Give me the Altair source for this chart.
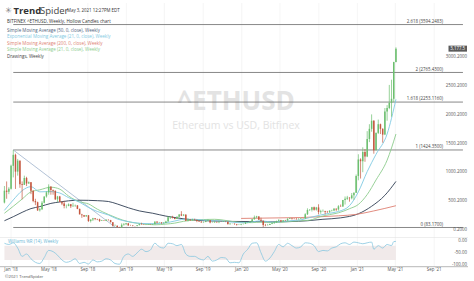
import altair as alt
import pandas as pd

# ---------------- weekly candles, BITFINEX ^ETHUSD ----------------
FIRST_WEEK = "2017-12-11"
FIRST_OPEN = 515
closes = [
    720, 700, 755,
    1150, 1340, 1050, 1240, 830, 820, 940, 845, 865, 720, 540, 520, 380, 400, 510, 620, 690, 790,
    730, 720, 570, 620, 525, 500, 455, 455, 485, 450, 460, 465, 405, 310, 295, 275, 295, 195, 220,
    245, 230, 225, 195, 205, 200, 215, 210, 175, 115, 115, 92, 84, 130, 140, 155,
    118, 116, 108, 107, 124, 143, 137, 131, 136, 141, 136, 141, 185, 168, 170, 156, 163, 187, 260,
    265, 250, 230, 268, 310, 290, 305, 200, 220, 210, 222, 215, 195, 185, 172, 180, 198, 210, 170,
    170, 180, 172, 184, 182, 188, 183, 140, 150, 150, 142, 132, 134, 144,
    146, 166, 168, 188, 225, 260, 275, 218, 200, 125, 122, 125, 143, 158, 171, 197, 210, 186, 207,
    204, 231, 245, 233, 228, 225, 229, 240, 238, 312, 385, 390, 433, 392, 430, 352, 365, 370, 355,
    352, 375, 377, 406, 396, 450, 447, 560, 580, 600, 590, 640, 685, 975,
    1260, 1230, 1390, 1310, 1615, 1790, 1930, 1420, 1720, 1870, 1790, 1690, 2090, 2150, 2240, 2310,
    2945, 3177.5,
]
highs = [
    800, 880, 780,
    1170, 1424, 1360, 1270, 1245, 880, 980, 960, 880, 870, 725, 580, 530, 420, 540, 620, 710, 830,
    800, 740, 720, 630, 630, 535, 545, 480, 500, 490, 510, 480, 470, 410, 320, 300, 300, 295, 225,
    250, 245, 235, 235, 215, 210, 225, 225, 215, 178, 135, 118, 95, 155, 160, 160,
    158, 130, 122, 110, 125, 145, 165, 140, 140, 145, 145, 145, 185, 185, 180, 175, 175, 200, 280,
    280, 285, 250, 275, 315, 365, 315, 315, 240, 225, 235, 235, 216, 200, 192, 185, 200, 225, 212,
    185, 200, 185, 200, 192, 195, 190, 185, 160, 152, 151, 145, 135, 146,
    150, 180, 171, 190, 228, 290, 285, 280, 253, 202, 145, 145, 150, 175, 187, 200, 227, 215, 210,
    215, 245, 252, 250, 240, 250, 245, 250, 245, 330, 415, 400, 440, 445, 440, 485, 390, 395, 372,
    370, 380, 390, 420, 415, 470, 480, 560, 620, 630, 605, 680, 690, 1000,
    1350, 1280, 1470, 1440, 1750, 1870, 2040, 1940, 1730, 1950, 1880, 1800, 2150, 2200, 2550, 2640,
    2950, 3200,
]
lows = [
    500, 580, 660,
    740, 950, 750, 980, 770, 570, 820, 800, 840, 660, 520, 470, 370, 360, 385, 500, 600, 650,
    650, 650, 560, 525, 520, 470, 415, 415, 450, 420, 440, 440, 400, 310, 250, 265, 270, 180, 170,
    195, 210, 210, 180, 195, 195, 195, 205, 170, 100, 105, 85, 83, 84, 115, 130,
    115, 115, 105, 100, 102, 118, 135, 128, 125, 130, 135, 130, 140, 155, 160, 150, 150, 160, 185,
    230, 240, 225, 230, 260, 280, 280, 195, 190, 200, 205, 205, 175, 180, 165, 170, 175, 195, 155,
    165, 168, 165, 158, 178, 180, 175, 140, 135, 142, 130, 117, 125, 125,
    135, 143, 155, 166, 185, 220, 245, 215, 195, 90, 105, 120, 125, 140, 148, 165, 195, 178, 180,
    196, 200, 230, 220, 225, 220, 222, 228, 230, 235, 300, 370, 360, 375, 375, 310, 320, 360, 310,
    335, 335, 360, 365, 370, 375, 440, 440, 480, 560, 530, 570, 560, 680,
    900, 930, 1040, 1220, 1300, 1560, 1740, 1360, 1420, 1700, 1700, 1550, 1680, 1930, 2130, 2000,
    2250, 2940,
]

# ---------------- moving averages ----------------
sma50_dates = ["2017-12-11", "2018-01-08", "2018-02-05", "2018-03-05", "2018-04-02", "2018-05-07",
               "2018-06-04", "2018-07-02", "2018-08-06", "2018-09-03", "2018-10-01", "2018-11-05",
               "2018-12-03", "2019-01-07", "2019-02-11", "2019-03-25", "2019-05-06", "2019-06-10",
               "2019-08-05", "2019-10-07", "2019-12-02", "2020-02-03", "2020-04-06", "2020-06-01",
               "2020-07-27", "2020-09-14", "2020-11-09", "2021-01-04", "2021-02-15", "2021-03-29",
               "2021-05-03"]
sma50_values = [200, 270, 345, 410, 445, 500, 525, 545, 555, 553, 547, 533, 490, 425, 370, 330,
                280, 250, 210, 195, 188, 185, 180, 185, 200, 225, 250, 320, 450, 640, 880]

sma200_dates = ["2019-12-30", "2020-03-02", "2020-05-04", "2020-07-06", "2020-09-07",
                "2020-11-02", "2020-12-28", "2021-02-22", "2021-05-03"]
sma200_values = [240, 245, 250, 255, 270, 285, 310, 370, 460]

ma21_dates = ["2017-12-11", "2018-01-08", "2018-02-05", "2018-03-05", "2018-04-02", "2018-05-07",
              "2018-06-04", "2018-07-02", "2018-08-06", "2018-09-03", "2018-10-01", "2018-11-05",
              "2018-12-03", "2019-01-07", "2019-02-04", "2019-03-04", "2019-04-01", "2019-05-06",
              "2019-06-03", "2019-07-01", "2019-08-05", "2019-09-02", "2019-10-07", "2019-11-04",
              "2019-12-02", "2020-01-06", "2020-02-03", "2020-03-02", "2020-04-06", "2020-05-04",
              "2020-06-01", "2020-07-06", "2020-08-03", "2020-09-07", "2020-10-05", "2020-11-02",
              "2020-12-07", "2021-01-04", "2021-02-01", "2021-03-01", "2021-04-05", "2021-05-03"]
sma21_values = [330, 450, 575, 700, 735, 780, 747, 627, 527, 491, 400, 309, 245, 183, 157, 141,
                130, 142, 159, 190, 213, 221, 225, 211, 187, 170, 167, 177, 168, 174, 187, 200,
                210, 273, 306, 337, 408, 482, 653, 906, 1247, 1700]
ema21_values = [380, 560, 720, 790, 700, 705, 680, 600, 520, 430, 360, 300, 230, 185, 160, 150,
                150, 165, 195, 225, 225, 210, 200, 192, 175, 165, 180, 200, 175, 185, 200, 215,
                255, 300, 330, 360, 460, 700, 1050, 1350, 1700, 2300]

# ---------------- drawings ----------------
fib_ratios = ["2.618", "2", "1.618", "1", "0"]
fib_values = [3594.2483, 2765.4300, 2253.1160, 1424.3500, 83.1700]
fib_start, fib_end = "2018-01-08", "2021-12-01"
trend_dates = ["2018-01-08", "2018-11-26"]
trend_values = [1424.35, 90]

# ---------------- Williams %R (14) ----------------
wr_dates = ["2017-12-11", "2017-12-25",
            "2018-01-08", "2018-01-22", "2018-02-05", "2018-02-19", "2018-03-05", "2018-03-19",
            "2018-04-02", "2018-04-16", "2018-04-30", "2018-05-14", "2018-05-28", "2018-06-11",
            "2018-06-25", "2018-07-09", "2018-07-23", "2018-08-06", "2018-08-20", "2018-09-03",
            "2018-09-17", "2018-10-01", "2018-10-15", "2018-10-29", "2018-11-12", "2018-11-26",
            "2018-12-10", "2018-12-24",
            "2019-01-07", "2019-01-21", "2019-02-04", "2019-02-18", "2019-03-04", "2019-03-18",
            "2019-04-01", "2019-04-15", "2019-04-29", "2019-05-13", "2019-05-27", "2019-06-10",
            "2019-06-24", "2019-07-08", "2019-07-22", "2019-08-05", "2019-08-19", "2019-09-02",
            "2019-09-16", "2019-09-30", "2019-10-14", "2019-10-28", "2019-11-11", "2019-11-25",
            "2019-12-09", "2019-12-23",
            "2020-01-06", "2020-01-20", "2020-02-03", "2020-02-17", "2020-03-02", "2020-03-16",
            "2020-03-30", "2020-04-13", "2020-04-27", "2020-05-11", "2020-05-25", "2020-06-08",
            "2020-06-22", "2020-07-06", "2020-07-20", "2020-08-03", "2020-08-17", "2020-08-31",
            "2020-09-14", "2020-09-28", "2020-10-12", "2020-10-26", "2020-11-09", "2020-11-23",
            "2020-12-07", "2020-12-21",
            "2021-01-04", "2021-01-18", "2021-02-01", "2021-02-15", "2021-02-22", "2021-03-08",
            "2021-03-22", "2021-04-05", "2021-04-19", "2021-04-26", "2021-05-03"]
wr_values = [-10, -15,
             -8, -30, -65, -55, -75, -90, -95, -70, -40, -45, -60, -80, -90, -85, -75, -95, -90,
             -97, -80, -88, -85, -75, -80, -95, -98, -65,
             -55, -65, -50, -35, -45, -38, -10, -25, -30, -10, -12, -20, -15, -55, -65, -65, -75,
             -80, -65, -85, -80, -70, -72, -92, -90, -92,
             -55, -35, -10, -8, -50, -85, -72, -45, -15, -25, -10, -20, -30, -25, -8, -10, -20,
             -45, -40, -42, -30, -25, -12, -8, -15, -5,
             -8, -12, -8, -5, -35, -20, -30, -15, -20, -3, -2]
wr_band = [-20, -80]

# ---------------- axes ----------------
price_ticks = [0.2, 500.2, 1000.2, 1500.2, 2000.2, 2500.2, 3000.2]
wr_ticks = [0, -50, -100]
month_ticks = ["2018-01-01", "2018-05-01", "2018-09-01", "2019-01-01", "2019-05-01", "2019-09-01",
               "2020-01-01", "2020-05-01", "2020-09-01", "2021-01-01", "2021-05-01", "2021-09-01"]
month_labels = ["Jan '18", "May '18", "Sep '18", "Jan '19", "May '19", "Sep '19",
                "Jan '20", "May '20", "Sep '20", "Jan '21", "May '21", "Sep '21"]

legend_lines = ["BITFINEX ^ETHUSD, Weekly, Hollow Candles chart",
                "Simple Moving Average (50, 0, close), Weekly",
                "Exponential Moving Average (21, 0, close), Weekly",
                "Simple Moving Average (200, 0, close), Weekly",
                "Simple Moving Average (21, 0, close), Weekly",
                "Drawings, Weekly"]

# ---------------- styles ----------------
UP, DOWN = "#6cbf6f", "#c4573f"
C_SMA50, C_EMA21, C_SMA200, C_SMA21 = "#2f3d52", "#7fc9e2", "#de7f72", "#8ccc8c"
legend_colors = ["#333333", "#51627a", C_EMA21, C_SMA200, C_SMA21, "#444444"]
FONT = "Open Sans"
W, H = 474, 281

X = alt.Scale(domain=[alt.DateTime(year=2017, month=11, date=27),
                      alt.DateTime(year=2022, month=1, date=5)], range=[0, W])
YP = alt.Scale(domain=[0, 4000], range=[232.3, 1.1], nice=False, zero=False)
YW = alt.Scale(domain=[-100, 0], range=[264.7, 240.9], nice=False, zero=False)

# ---------------- tables ----------------
opens = [FIRST_OPEN] + closes[:-1]
weeks = pd.date_range(FIRST_WEEK, periods=len(closes), freq="7D")
candles = pd.DataFrame({"week": weeks, "open": opens, "high": highs, "low": lows, "close": closes})
candles["dir"] = ["up" if c >= o else "down" for o, c in zip(opens, closes)]

ma = pd.concat([
    pd.DataFrame({"d": pd.to_datetime(sma50_dates), "v": sma50_values, "s": "sma50"}),
    pd.DataFrame({"d": pd.to_datetime(sma200_dates), "v": sma200_values, "s": "sma200"}),
    pd.DataFrame({"d": pd.to_datetime(ma21_dates), "v": sma21_values, "s": "sma21"}),
    pd.DataFrame({"d": pd.to_datetime(ma21_dates), "v": ema21_values, "s": "ema21"}),
])
fib = pd.DataFrame({"v": fib_values, "a": pd.to_datetime(fib_start), "b": pd.to_datetime(fib_end),
                    "lab": [f"{r} ({v:.4f})" for r, v in zip(fib_ratios, fib_values)]})
trend = pd.DataFrame({"d": pd.to_datetime(trend_dates), "v": trend_values})
wr = pd.DataFrame({"d": pd.to_datetime(wr_dates), "v": wr_values})
band = pd.DataFrame({"a": [weeks[0]], "b": [weeks[-1]], "hi": [wr_band[0]], "lo": [wr_band[1]]})
pt = pd.DataFrame({"v": price_ticks, "lab": [f"{v:.4f}" for v in price_ticks]})
wt = pd.DataFrame({"v": wr_ticks, "lab": [f"{v:.2f}" for v in wr_ticks]})
mt = pd.DataFrame({"d": pd.to_datetime(month_ticks), "lab": month_labels})
last = pd.DataFrame({"v": [closes[-1]], "lab": [f"{closes[-1]:,.1f}"]})


def label(s, x, y, size=4.6, color="#333333", weight="normal", align="left", font=FONT):
    return alt.Chart(pd.DataFrame({"t": [s]})).mark_text(
        text=s, fontSize=size, color=color, fontWeight=weight, align=align,
        baseline="middle", font=font).encode(x=alt.value(x), y=alt.value(y))


layers = []
# grid
layers.append(alt.Chart(mt).mark_rule(color="#efefef", strokeWidth=0.6).encode(
    x=alt.X("d:T", scale=X, axis=None), y=alt.value(3), y2=alt.value(266.7)))
# watermark
layers.append(label("^ETHUSD", 236, 102, size=26, color="#e3e3e3", weight="bold"))
layers[-1] = layers[-1].mark_text(text="^ETHUSD", fontSize=26, color="#e3e3e3", fontWeight="bold",
                                  align="center", baseline="middle", font=FONT)
layers.append(label("Ethereum vs USD, Bitfinex", 236, 126, size=10.5, color="#e3e3e3",
                    align="center"))
# separators
layers.append(alt.Chart(mt.head(1)).mark_rule(color="#e2e2e2", strokeWidth=0.6).encode(
    x=alt.value(0), x2=alt.value(468), y=alt.value(237.5)))
layers.append(alt.Chart(mt.head(1)).mark_rule(color="#9a9a9a", strokeWidth=0.7).encode(
    x=alt.value(0), x2=alt.value(468), y=alt.value(266.7)))
# Williams %R
layers.append(alt.Chart(band).mark_rect(color="#f1eaea").encode(
    x=alt.X("a:T", scale=X, axis=None), x2="b:T",
    y=alt.Y("hi:Q", scale=YW, axis=None), y2="lo:Q"))
layers.append(alt.Chart(wr).mark_line(color="#86c6e0", strokeWidth=0.8, interpolate="monotone").encode(
    x=alt.X("d:T", scale=X, axis=None), y=alt.Y("v:Q", scale=YW, axis=None)))
layers.append(alt.Chart(wt).mark_text(align="right", baseline="middle", fontSize=4.4,
                                      color="#555555", font=FONT).encode(
    x=alt.value(467), y=alt.Y("v:Q", scale=YW, axis=None), text="lab:N"))
layers.append(label("Williams %R (14), Weekly", 8, 241.8, size=4.4, color="#6db8d6"))
# fib + trendline
layers.append(alt.Chart(fib).mark_rule(color="#6a6a6a", strokeWidth=0.8).encode(
    x=alt.X("a:T", scale=X, axis=None), x2="b:T", y=alt.Y("v:Q", scale=YP, axis=None)))
layers.append(alt.Chart(fib).mark_text(align="right", baseline="middle", fontSize=4.4, dy=-2.6,
                                       color="#444444", font=FONT).encode(
    x=alt.value(443), y=alt.Y("v:Q", scale=YP, axis=None), text="lab:N"))
layers.append(alt.Chart(trend).mark_line(color="#9fb2cc", strokeWidth=0.8).encode(
    x=alt.X("d:T", scale=X, axis=None), y=alt.Y("v:Q", scale=YP, axis=None)))
# moving averages
layers.append(alt.Chart(ma).mark_line(strokeWidth=0.9, interpolate="monotone").encode(
    x=alt.X("d:T", scale=X, axis=None), y=alt.Y("v:Q", scale=YP, axis=None),
    color=alt.Color("s:N", scale=alt.Scale(domain=["sma50", "ema21", "sma200", "sma21"],
                                           range=[C_SMA50, C_EMA21, C_SMA200, C_SMA21]),
                    legend=None),
    detail="s:N"))
# candles
cscale = alt.Scale(domain=["up", "down"], range=[UP, DOWN])
layers.append(alt.Chart(candles).mark_rule(strokeWidth=0.7).encode(
    x=alt.X("week:T", scale=X, axis=None), y=alt.Y("low:Q", scale=YP, axis=None), y2="high:Q",
    color=alt.Color("dir:N", scale=cscale, legend=None)))
layers.append(alt.Chart(candles).mark_rule(strokeWidth=1.5).encode(
    x=alt.X("week:T", scale=X, axis=None), y=alt.Y("open:Q", scale=YP, axis=None), y2="close:Q",
    color=alt.Color("dir:N", scale=cscale, legend=None)))
# price axis labels
layers.append(alt.Chart(pt).mark_text(align="right", baseline="middle", fontSize=4.4, dy=-2,
                                      color="#555555", font=FONT).encode(
    x=alt.value(467), y=alt.Y("v:Q", scale=YP, axis=None), text="lab:N"))
layers.append(alt.Chart(last).mark_rule(color="#5a5a5a", strokeWidth=6).encode(
    x=alt.value(448.5), x2=alt.value(467), y=alt.Y("v:Q", scale=YP, axis=None)))
layers.append(alt.Chart(last).mark_text(align="center", baseline="middle", fontSize=4.4,
                                        color="white", font=FONT).encode(
    x=alt.value(457.7), y=alt.Y("v:Q", scale=YP, axis=None), text="lab:N"))
# time labels
layers.append(alt.Chart(mt).mark_text(align="center", baseline="middle", fontSize=4.4,
                                      color="#555555", font=FONT).encode(
    x=alt.X("d:T", scale=X, axis=None), y=alt.value(270.2), text="lab:N"))
# header
layers.append(label("\u2733", 8.5, 11, size=8, color="#7a7a7a", font="DejaVu Sans", align="center"))
layers.append(label("Trend", 13.5, 11, size=9.5, color="#333333", weight="bold"))
layers.append(label("Spider", 40, 11, size=9.5, color="#444444"))
layers.append(label("May 3, 2021 12:27PM EDT", 67, 11.2, size=4.4, color="#333333"))
for i, (s, c) in enumerate(zip(legend_lines, legend_colors)):
    ypos = [22.3, 31.0, 37.4, 43.8, 50.2, 56.6][i]
    layers.append(label(s, 7, ypos, size=4.5, color=c))
layers.append(label("\u00a92021 TrendSpider", 5, 277, size=4.2, color="#555555"))

chart = alt.layer(*layers).resolve_scale(y="independent", color="independent").properties(
    width=W, height=H, padding=0, background="white",
    autosize=alt.AutoSizeParams(type="none")).configure_view(stroke=None)

chart.save("out.html", embed_options={"renderer": "svg", "actions": False})
